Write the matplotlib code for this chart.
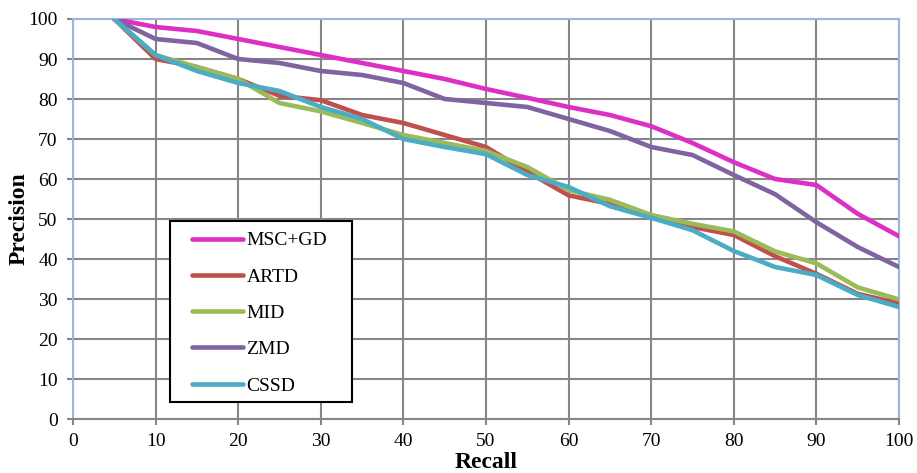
import numpy as np
import matplotlib
matplotlib.use('Agg')
import matplotlib.pyplot as plt
from matplotlib.patches import Rectangle

plt.rcParams['font.family'] = ['Liberation Serif', 'DejaVu Serif']

# Recall levels and precision values
recall = [5, 10, 15, 20, 25, 30, 35, 40, 45, 50, 55, 60, 65, 70, 75, 80, 85, 90, 95, 100]
msc_gd = [100, 98, 97, 95, 93, 91, 89, 87, 85, 82.5, 80.3, 78, 76, 73.2, 69, 64.2, 60, 58.5, 51.3, 45.7]
artd = [100, 90, 88, 85, 80.8, 79.7, 76, 74, 71, 68, 61.8, 55.9, 53.8, 50.5, 48, 46, 40.7, 36.3, 31.3, 28.9]
mid = [100, 91, 88, 85, 79, 76.9, 74, 71, 69, 67, 63, 57.2, 54.8, 51, 48.8, 46.9, 41.9, 38.9, 32.9, 29.9]
zmd = [100, 95, 94, 90, 89, 87, 86, 84, 80, 79, 78, 75, 72, 68, 66, 61, 56.2, 49.2, 43, 38]
cssd = [100, 91, 87, 84, 82, 78, 75, 70, 68, 66.2, 61, 58, 53.2, 50.3, 47.2, 42, 38, 36, 31, 28]

names = ['MSC+GD', 'ARTD', 'MID', 'ZMD', 'CSSD']
colors = ['#DC2FC4', '#C0504D', '#9BBB59', '#8064A2', '#4BACC6']
series = [msc_gd, artd, mid, zmd, cssd]

fig = plt.figure(figsize=(9.17, 4.73), dpi=100)
ax = fig.add_axes([73/917, 1 - 419/473, 826/917, 400/473])

for vals, name, col in zip(series, names, colors):
    ax.plot(recall, vals, color=col, lw=3.3, label=name, solid_capstyle='round', zorder=3)

ax.set_xlim(0, 100)
ax.set_ylim(0, 100)
ax.set_xticks(np.arange(0, 101, 10))
ax.set_yticks(np.arange(0, 101, 10))
ax.grid(True, color='#868686', lw=1.5)
ax.set_axisbelow(True)
ax.tick_params(labelsize=14, colors='#868686', labelcolor='black', width=1.5, length=4)
ax.tick_params(axis='x', pad=6)
ax.tick_params(axis='y', pad=7)

for side in ['left', 'top', 'right']:
    ax.spines[side].set_color('#9DB5DE')
    ax.spines[side].set_linewidth(1.5)
ax.spines['bottom'].set_color('#868686')
ax.spines['bottom'].set_linewidth(1.5)

ax.set_xlabel('Recall', fontsize=17, fontweight='bold')
ax.set_ylabel('Precision', fontsize=17, fontweight='bold')
ax.xaxis.set_label_coords(0.5, -0.083)
ax.yaxis.set_label_coords(-0.052, 0.5)

# legend box
ax.add_patch(Rectangle((0.1174, 0.0425), 0.2205, 0.4525, transform=ax.transAxes,
                       facecolor='white', edgecolor='black', lw=1.5, zorder=4))
leg = ax.legend(loc='upper left', bbox_to_anchor=(0.1441, 0.468), frameon=False,
                fontsize=14, borderpad=0, borderaxespad=0, handlelength=2.6,
                handletextpad=0.2, labelspacing=0.96)
leg.set_zorder(5)

fig.savefig('out.png', dpi=100)
